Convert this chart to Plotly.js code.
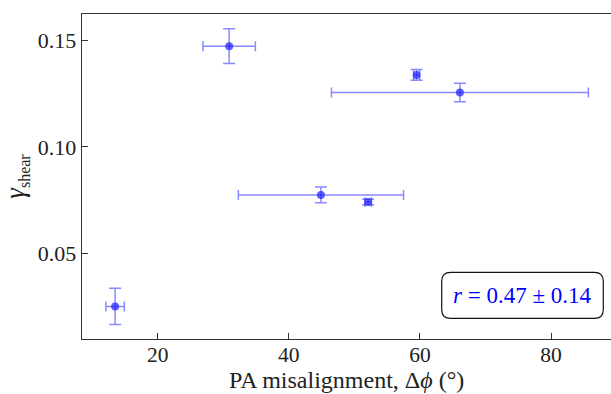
<!DOCTYPE html>
<html>
<head>
<meta charset="utf-8">
<script src="https://cdn.plot.ly/plotly-3.0.1.min.js"></script>
<style>html,body{margin:0;padding:0;background:#fff;}</style>
</head>
<body>
<div id="chart" style="width:611px;height:394px;"></div>
<script>
// Data
const paMisalignment = [13.5, 30.9, 59.5, 66.1, 44.9, 52.1];
const paErr          = [1.4, 4.0, 0.45, 19.6, 12.6, 0.5];
const gammaShear     = [0.0249, 0.1474, 0.1339, 0.1256, 0.0774, 0.0741];
const gammaErr       = [0.0085, 0.0082, 0.0025, 0.0044, 0.0037, 0.0013];
const xTicks = [20, 40, 60, 80];
const yTicks = [0.05, 0.10, 0.15];
const yTickLabels = ["0.05", "0.10", "0.15"];
const xTitle = "PA misalignment, Δ<i>ϕ</i> (°)";
const yTitle = "<i>γ</i><sub><span style='font-size:16px'>shear</span></sub>";
const corrLabel = "<i>r</i> = 0.47 ± 0.14";

const serif = "Liberation Serif, Times New Roman, serif";
const errColor = "rgba(40,40,255,0.55)";

const trace = {
  type: "scatter",
  mode: "markers",
  x: paMisalignment,
  y: gammaShear,
  marker: {color: "rgba(30,30,255,0.7)", size: 8, line: {width: 0}},
  error_x: {type: "data", array: paErr, visible: true, color: errColor, thickness: 1.5, width: 5},
  error_y: {type: "data", array: gammaErr, visible: true, color: errColor, thickness: 1.5, width: 6},
  hoverinfo: "skip"
};

// rounded box for the annotation (paper coords)
const W = 529, H = 325.3;
const bx0 = (441.7 - 82) / W, bx1 = (603.3 - 82) / W;
const by0 = 1 - (318.7 - 14) / H, by1 = 1 - (272.7 - 14) / H;
const rx = 9 / W, ry = 9 / H;
const boxPath =
  `M ${bx0 + rx} ${by0} L ${bx1 - rx} ${by0} Q ${bx1} ${by0} ${bx1} ${by0 + ry} ` +
  `L ${bx1} ${by1 - ry} Q ${bx1} ${by1} ${bx1 - rx} ${by1} ` +
  `L ${bx0 + rx} ${by1} Q ${bx0} ${by1} ${bx0} ${by1 - ry} ` +
  `L ${bx0} ${by0 + ry} Q ${bx0} ${by0} ${bx0 + rx} ${by0} Z`;

const layout = {
  width: 611, height: 394,
  margin: {l: 82, r: 0, t: 14, b: 55, pad: 0},
  paper_bgcolor: "#fff", plot_bgcolor: "#fff",
  showlegend: false,
  font: {family: serif, size: 21.5, color: "#222"},
  xaxis: {
    range: [8.45, 89.15],
    tickvals: xTicks,
    ticks: "inside", ticklen: 6, tickwidth: 1, tickcolor: "#333",
    ticklabelstandoff: -4,
    showline: true, linecolor: "#333", linewidth: 1.3, mirror: true,
    showgrid: false, zeroline: false,
    tickfont: {family: serif, size: 21.5, color: "#222"}
  },
  yaxis: {
    range: [0.00955, 0.16256],
    tickvals: yTicks, ticktext: yTickLabels,
    ticks: "inside", ticklen: 6, tickwidth: 1, tickcolor: "#333",
    showline: true, linecolor: "#333", linewidth: 1.3, mirror: false,
    showgrid: false, zeroline: false,
    tickfont: {family: serif, size: 22, color: "#222"},
    title: {text: yTitle, font: {family: serif, size: 27, color: "#222"}, standoff: 8}
  },
  shapes: [{
    type: "path", xref: "paper", yref: "paper", path: boxPath,
    line: {color: "#111", width: 1.2}, fillcolor: "rgba(255,255,255,0.9)"
  }],
  annotations: [{
    xref: "paper", yref: "paper",
    x: (bx0 + bx1) / 2, y: (by0 + by1) / 2,
    xanchor: "center", yanchor: "middle",
    text: corrLabel, showarrow: false,
    font: {family: serif, size: 23, color: "#0000ff"}
  }, {
    xref: "paper", yref: "paper",
    x: 0.5, y: -55 / H, xanchor: "center", yanchor: "bottom",
    text: xTitle, showarrow: false, borderpad: 0,
    font: {family: serif, size: 24, color: "#222"}
  }]
};

Plotly.newPlot("chart", [trace], layout, {displayModeBar: false, staticPlot: true});
</script>
</body>
</html>
